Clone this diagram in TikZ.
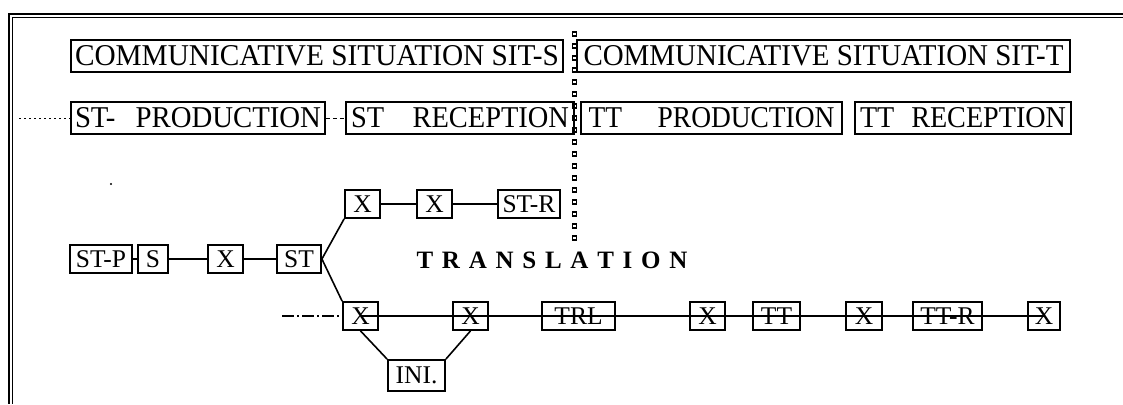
\documentclass[tikz,border=0pt]{standalone}
\usepackage{graphicx}
\usepackage{fontspec}
\setmainfont{Liberation Serif}
\newcommand{\sprd}[2]{\makebox[#1][s]{#2}}
\newcommand{\fitto}[3]{\resizebox{#1}{#2}{#3}}
\begin{document}
\begin{tikzpicture}[x=1pt,y=-1pt,
  bigbox/.style={draw, line width=1.8pt, fill=white, inner sep=0pt, minimum height=32pt,
     font=\fontsize{28}{30}\selectfont},
  smallbox/.style={draw, line width=1.8pt, fill=white, inner sep=0pt, minimum height=28pt,
     font=\fontsize{25.5}{28}\selectfont},
  link/.style={line width=1.6pt},
  frame/.style={line width=1.3pt}]
\useasboundingbox (0,0) rectangle (1123,404);
% frame
\draw[frame] (8,14) -- (1123,14);
\draw[line width=0.7pt] (12,17.5) -- (1123,17.5);
\draw[frame] (9,14) -- (9,404);
\draw[line width=0.7pt] (12.5,17.5) -- (12.5,404);
% row 1
\node[bigbox, minimum width=492pt] (sits) at (317,56) {\fitto{484pt}{20pt}{COMMUNICATIVE SITUATION SIT-S}};
\node[bigbox, minimum width=493pt] (sitt) at (823.5,56) {\fitto{480pt}{20pt}{COMMUNICATIVE SITUATION SIT-T}};
% row 2
\node[bigbox, minimum width=254pt] (stprod) at (198,118) {\fitto{246pt}{20pt}{ST-\hspace{0.7em}PRODUCTION}};
\node[bigbox, minimum width=228pt] (strec) at (460,118) {\fitto{218pt}{20pt}{ST\hspace{1em}RECEPTION}};
\node[bigbox, minimum width=261pt] (ttprod) at (711.5,118) {\fitto{246pt}{20pt}{TT\hspace{1.3em}PRODUCTION}};
\node[bigbox, minimum width=216pt] (ttrec) at (963,118) {\fitto{206pt}{20pt}{TT\hspace{0.6em}RECEPTION}};
\coordinate (l2) at (19,118);
\draw[line width=1pt, dash pattern=on 2pt off 3pt] (l2) -- (stprod.west);
\draw[line width=1pt, dash pattern=on 4pt off 3pt] (stprod.east) -- (strec.west);
% vertical divider of small squares
\foreach \yy in {32,44,...,240} \draw[line width=1.1pt] (572.5,\yy) rectangle ++(4,4);
% speck
\fill (111,184) circle (1.2pt);
% ST row
\node[smallbox, minimum width=62pt] (stp) at (101,259) {ST-P};
\node[smallbox, minimum width=30pt] (s) at (153,259) {S};
\node[smallbox, minimum width=35pt] (x0) at (225.5,259) {X};
\node[smallbox, minimum width=44pt] (st) at (299,259) {ST};
% top row
\node[smallbox, minimum width=35pt] (tx1) at (362.5,204) {X};
\node[smallbox, minimum width=35pt] (tx2) at (434.5,204) {X};
\node[smallbox, minimum width=62pt] (str) at (529,204) {ST-R};
% lower row
\node[smallbox, minimum width=35pt] (lx1) at (360.5,316) {X};
\node[smallbox, minimum width=35pt] (lx2) at (470.5,316) {X};
\node[smallbox, minimum width=73pt] (trl) at (578.5,316) {TRL};
\node[smallbox, minimum width=35pt] (lx3) at (707.5,316) {X};
\node[smallbox, minimum width=47pt] (tt) at (776.5,316) {TT};
\node[smallbox, minimum width=36pt] (lx4) at (864,316) {X};
\node[smallbox, minimum width=69pt] (ttr) at (947.5,316) {TT-R};
\node[smallbox, minimum width=32pt] (lx5) at (1044,316) {X};
\node[smallbox, minimum width=57pt, minimum height=31pt] (ini) at (416.5,375.5) {INI.};
% TRANSLATION
\node[inner sep=0pt, font=\fontsize{25}{28}\selectfont\bfseries] (trans) at (552,260)
  {\sprd{271pt}{T\hfil R\hfil A\hfil N\hfil S\hfil L\hfil A\hfil T\hfil I\hfil O\hfil N}};
% connectors
\draw[link] (stp) -- (s);
\draw[link] (s) -- (x0);
\draw[link] (x0) -- (st);
\draw[link] (st.east) -- (tx1.south west);
\draw[link] (st.east) -- (lx1.north west);
\draw[link] (tx1) -- (tx2);
\draw[link] (tx2) -- (str);
\coordinate (l5) at (282,316);
\draw[link, dash pattern=on 12pt off 3pt on 2pt off 3pt] (l5) -- (lx1.west);
\draw[link] (lx1.south) -- (ini.north west);
\draw[link] (lx2.south) -- (ini.north east);
\draw[link] (lx1.center) -- (lx2.center);
\draw[link] (lx2.center) -- (trl.center);
\draw[link] (trl.center) -- (lx3.center);
\draw[link] (lx3.center) -- (tt.center);
\draw[link] (tt.center) -- (lx4.center);
\draw[link] (lx4.center) -- (ttr.center);
\draw[link] (ttr.center) -- (lx5.center);
\end{tikzpicture}
\end{document}
